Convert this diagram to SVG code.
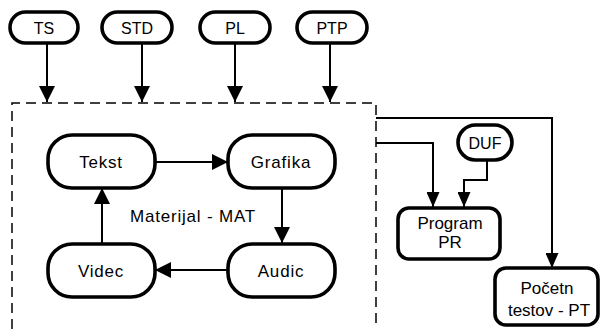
<svg xmlns="http://www.w3.org/2000/svg" width="600" height="329" viewBox="0 0 600 329">
<style>
.n{fill:#fff;stroke:#000;stroke-width:3.6}
.t{font-family:"Liberation Sans",Arial,sans-serif;font-size:17px;fill:#000;text-anchor:middle}
.s{font-size:16px}
.c{fill:none;stroke:#000;stroke-width:2}
.d{fill:none;stroke:#000;stroke-width:1.5;stroke-dasharray:10 6}
</style>
<defs>
<marker id="ah" viewBox="0 0 16 16" refX="16" refY="8" markerWidth="16" markerHeight="16" orient="auto" markerUnits="userSpaceOnUse">
<path d="M0,0 L16,8 L0,16 z" fill="#000"/>
</marker>
<marker id="as" viewBox="0 0 15 13" refX="15" refY="6.5" markerWidth="15" markerHeight="13" orient="auto" markerUnits="userSpaceOnUse">
<path d="M0,0 L15,6.5 L0,13 z" fill="#000"/>
</marker>
</defs>
<rect width="600" height="329" fill="#fff"/>
<path class="d" d="M12,329 V103 H376 V329"/>
<g id="connectors">
<path class="c" d="M47,43 V102" marker-end="url(#ah)"/>
<path class="c" d="M142,43 V102" marker-end="url(#ah)"/>
<path class="c" d="M235,43 V102" marker-end="url(#ah)"/>
<path class="c" d="M330,43 V102" marker-end="url(#ah)"/>
<path class="c" d="M155,162 H228" marker-end="url(#ah)"/>
<path class="c" d="M282,188 V243" marker-end="url(#ah)"/>
<path class="c" d="M228,270 H155" marker-end="url(#ah)"/>
<path class="c" d="M102,244 V188" marker-end="url(#ah)"/>
<path class="c" d="M376,118 H552 V268" marker-end="url(#as)"/>
<path class="c" d="M376,143 H433 V207" marker-end="url(#as)"/>
<path class="c" d="M487,160 V180 H464 V207" marker-end="url(#as)"/>
</g>
<g id="TS"><rect class="n" x="10" y="12" width="68" height="31" rx="15.5"/><text class="t s" x="44" y="33.5">TS</text></g>
<g id="STD"><rect class="n" x="102" y="12" width="70" height="31" rx="15.5"/><text class="t s" x="137" y="33.5">STD</text></g>
<g id="PL"><rect class="n" x="200" y="12" width="70" height="31" rx="15.5"/><text class="t s" x="235" y="33.5">PL</text></g>
<g id="PTP"><rect class="n" x="297" y="12" width="70" height="31" rx="15.5"/><text class="t s" x="332" y="33.5">PTP</text></g>
<g id="Tekst"><rect class="n" x="48" y="135" width="107" height="53" rx="24"/><text class="t" x="101" y="168" letter-spacing="0.8">Tekst</text></g>
<g id="Grafika"><rect class="n" x="228" y="135" width="107" height="53" rx="24"/><text class="t" x="281" y="168" letter-spacing="0.8">Grafika</text></g>
<g id="Audic"><rect class="n" x="228" y="244" width="107" height="53" rx="24"/><text class="t" x="281" y="277" letter-spacing="0.8">Audic</text></g>
<g id="Videc"><rect class="n" x="48" y="244" width="107" height="53" rx="24"/><text class="t" x="101" y="277" letter-spacing="0.8">Videc</text></g>
<text class="t" x="193" y="222" letter-spacing="0.8">Materijal - MAT</text>
<g id="DUF"><rect class="n" x="458" y="125" width="54" height="35" rx="17.5"/><text class="t s" x="485" y="148.5">DUF</text></g>
<g id="PR"><rect class="n" x="398" y="208" width="102" height="51" rx="11"/><text class="t" x="450" y="229">Program</text><text class="t" x="450" y="248">PR</text></g>
<g id="PT"><rect class="n" x="495" y="268" width="103" height="57" rx="11"/><text class="t" x="547" y="294">Početn</text><text class="t" x="549" y="316">testov  - PT</text></g>
</svg>
